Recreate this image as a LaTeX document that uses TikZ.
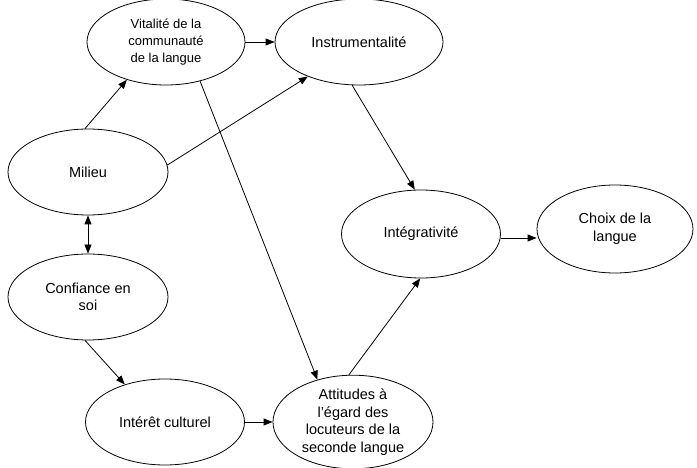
\documentclass[tikz,border=0pt]{standalone}
\usepackage{fontspec}
\setmainfont{Liberation Sans}
\usetikzlibrary{shapes.geometric,arrows.meta}
\begin{document}
\begin{tikzpicture}[x=1pt,y=-1pt,
  ell/.style={draw,ellipse,line width=0.8pt,inner sep=0pt,align=center,
    font=\fontsize{14.5}{17.5}\selectfont},
  arr/.style={line width=0.8pt,-{Triangle[length=9pt,width=7pt]}},
  darr/.style={line width=0.8pt,{Triangle[length=9pt,width=7pt]}-{Triangle[length=9pt,width=7pt]}}]
\useasboundingbox (0,0) rectangle (697,468);
\node[ell,minimum width=158pt,minimum height=86pt,font=\fontsize{13}{17}\selectfont] (vit) at (166,42) {Vitalité de la\\communauté\\de la langue};
\node[ell,minimum width=168pt,minimum height=86pt] (ins) at (359,42) {Instrumentalité};
\node[ell,minimum width=160pt,minimum height=86pt] (mil) at (88,172) {Milieu};
\node[ell,minimum width=160pt,minimum height=86pt] (conf) at (88,297) {Confiance en\\soi};
\node[ell,minimum width=159pt,minimum height=88pt] (int) at (421,234) {Intégrativité};
\node[ell,minimum width=156pt,minimum height=88pt] (cho) at (615,229) {Choix de la\\langue};
\node[ell,minimum width=159pt,minimum height=86pt] (cul) at (165,422) {Intérêt culturel};
\node[ell,minimum width=160pt,minimum height=92pt] (att) at (353,422) {Attitudes à\\l’égard des\\locuteurs de la\\seconde langue};

\draw[arr] (mil.94) -- (vit.224);
\draw[arr] (mil.5) -- (ins.214);
\draw[arr] (vit.east) -- (ins.west);
\draw[arr] (vit.311) -- (att.130);
\draw[arr] (ins.261) -- (int.98);
\draw[darr] (mil.south) -- (conf.north);
\draw[arr] (conf.266) -- (cul.137);
\draw[arr] (cul.east) -- (cul.east -| att.west);
\draw[arr] (att.95) -- (int.269);
\coordinate (ie) at ([yshift=-4pt]int.east);
\draw[arr] (ie) -- (ie -| cho.west);
\end{tikzpicture}
\end{document}
